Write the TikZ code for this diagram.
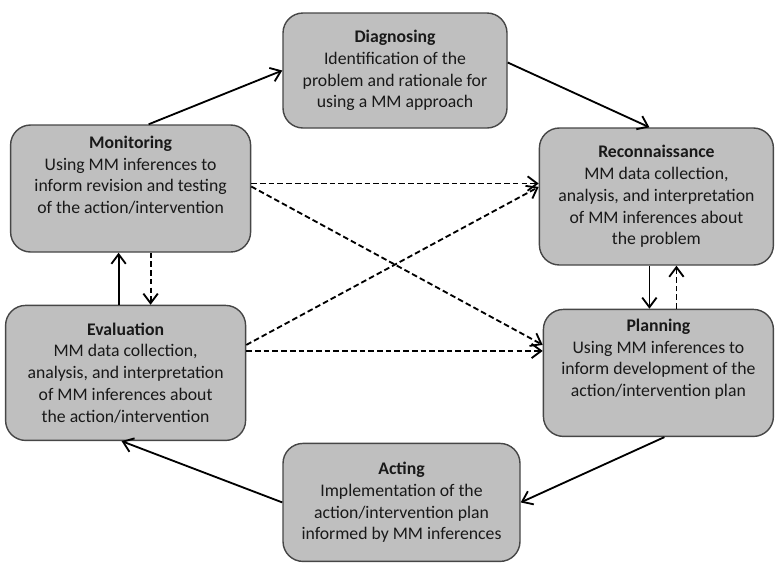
\documentclass[tikz,border=0pt]{standalone}
\usepackage{fontspec}
\setmainfont{Carlito}
\usetikzlibrary{arrows.meta, positioning}
\definecolor{boxgray}{RGB}{191,191,191}
\definecolor{edgegray}{RGB}{70,70,70}
\definecolor{txtgray}{RGB}{25,25,25}
\tikzset{
  stage/.style={rectangle, draw=edgegray, fill=boxgray, line width=1pt,
                rounded corners=0.5cm, align=center, text=txtgray,
                font=\fontsize{12.6pt}{15.5pt}\selectfont},
  flow/.style={-{Straight Barb[length=2.4mm, width=3.6mm]}, line width=1.3pt},
  feed/.style={flow, dash pattern=on 4pt off 2.2pt},
}
\begin{document}
\begin{tikzpicture}

  \useasboundingbox (0,0) rectangle (19.375,-14.1);

  \node[stage, minimum width=5.6cm, minimum height=2.875cm] (diag) at (9.875,-1.7625)
    {\textbf{Diagnosing}\\Identification of the\\problem and rationale for\\using a MM approach};

  \node[stage, minimum width=6.0cm, minimum height=3.175cm, left=0.775cm of diag, yshift=-2.95cm] (mon)
    {\textbf{Monitoring}\\Using MM inferences to\\inform revision and testing\\of the action/intervention\\[4pt]};

  \node[stage, minimum width=5.85cm, minimum height=3.425cm, right=0.775cm of diag, yshift=-3.15cm] (recon)
    {\textbf{Reconnaissance}\\MM data collection,\\analysis, and interpretation\\of MM inferences about\\the problem};

  \node[stage, minimum width=6.0cm, minimum height=3.375cm, below=1.3cm of mon, xshift=-0.125cm] (eval)
    {\textbf{Evaluation}\\MM data collection,\\analysis, and interpretation\\of MM inferences about\\the action/intervention};

  \node[stage, minimum width=5.75cm, minimum height=3.175cm, below=1.075cm of recon, xshift=0.05cm] (plan)
    {\textbf{Planning}\\Using MM inferences to\\inform development of the\\action/intervention plan\\[6pt]};

  \node[stage, minimum width=5.925cm, minimum height=2.95cm, right=0.9cm of eval, yshift=-3.2375cm] (act)
    {\textbf{Acting}\\Implementation of the\\action/intervention plan\\informed by MM inferences};

  % main cycle
  \draw[flow] ([xshift=0.45cm]mon.north) -- (diag.west);
  \draw[flow] ([yshift=0.2cm]diag.east) -- ([xshift=-0.175cm]recon.north);
  \draw[flow] ([xshift=-0.175cm]recon.south) -- ([xshift=-0.175cm]recon.south |- plan.north);
  \draw[flow] ([xshift=0.15cm]plan.south) -- (act.east);
  \draw[flow] (act.west) -- ([xshift=-0.1cm]eval.south);
  \draw[flow] ([xshift=-0.175cm]eval.north) -- ([xshift=-0.175cm]eval.north |- mon.south);

  % feedback
  \draw[feed] ([xshift=0.5cm]recon.south |- plan.north) -- ([xshift=0.5cm]recon.south);
  \draw[feed] ([xshift=0.5cm]mon.south) -- ([xshift=0.5cm]mon.south |- eval.north);
  \draw[feed] ([yshift=0.125cm]mon.east) -- ([yshift=0.125cm]mon.east -| recon.west);
  \draw[feed] ([yshift=0.05cm]mon.east) -- ([yshift=0.7cm]plan.west);
  \draw[feed] ([yshift=0.7cm]eval.east) -- ([yshift=0.24cm]recon.west);
  \draw[feed] ([yshift=0.55cm]eval.east) -- ([yshift=0.55cm]eval.east -| plan.west);

\end{tikzpicture}
\end{document}
